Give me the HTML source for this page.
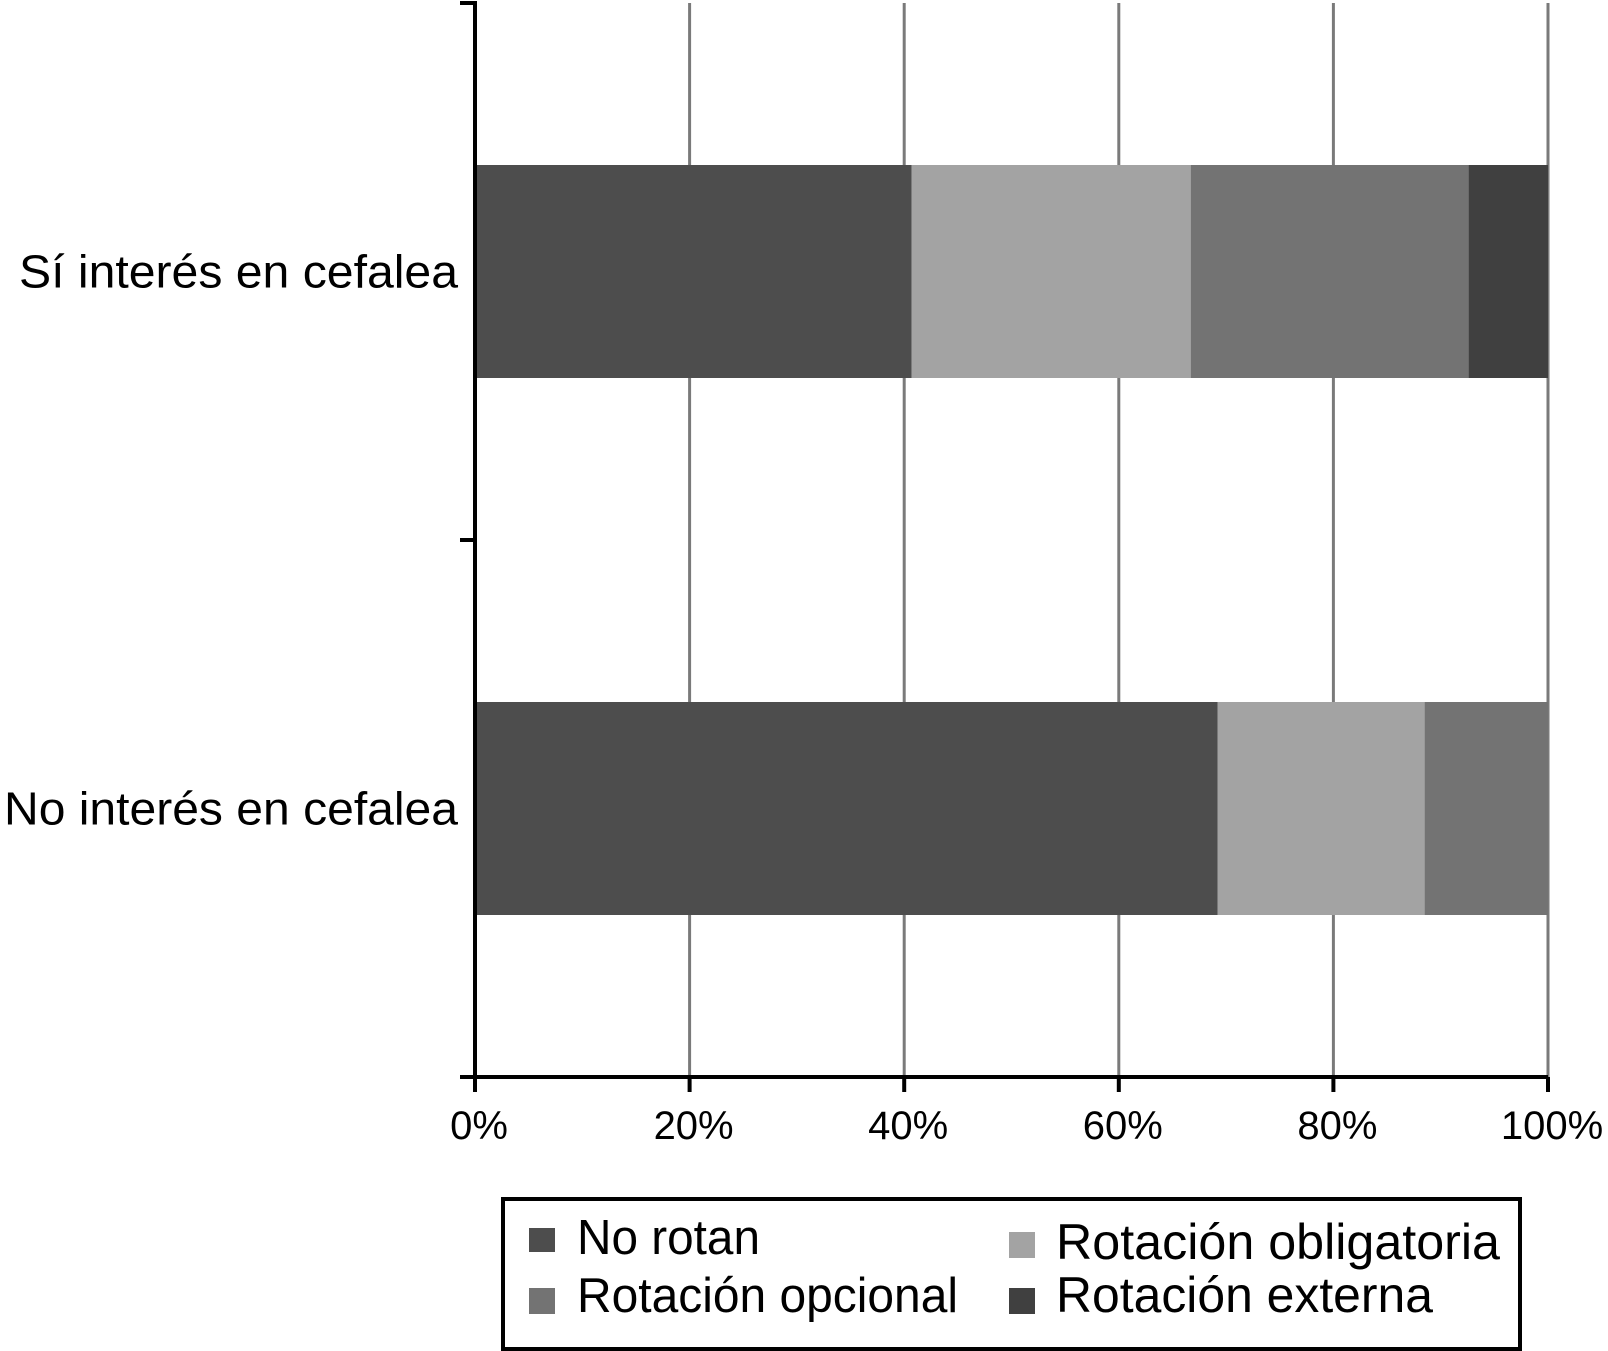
<!DOCTYPE html>
<html><head><meta charset="utf-8"><style>
html,body{margin:0;padding:0;background:#fff;}
svg{display:block;font-family:"Liberation Sans",Arial,sans-serif;}
</style></head><body>
<svg id="chart" width="1608" height="1351" viewBox="0 0 1608 1351">
<g id="grid"></g>
<g id="bars"></g>
<g id="axes"></g>
<g>
<rect x="503" y="1199" width="1017" height="150" fill="#fff" stroke="#000" stroke-width="4"/>
<g><rect x="529" y="1228" width="26" height="24" fill="#4d4d4d"/><text x="577" y="1254" font-size="49" textLength="183" lengthAdjust="spacingAndGlyphs">No rotan</text></g>
<g><rect x="529" y="1288" width="26" height="26" fill="#737373"/><text x="577" y="1312" font-size="49" textLength="381" lengthAdjust="spacingAndGlyphs">Rotación opcional</text></g>
<g><rect x="1009" y="1232" width="26" height="26" fill="#a3a3a3"/><text x="1056" y="1259" font-size="50" textLength="444" lengthAdjust="spacingAndGlyphs">Rotación obligatoria</text></g>
<g><rect x="1009" y="1288" width="26" height="26" fill="#404040"/><text x="1056" y="1312" font-size="50" textLength="377" lengthAdjust="spacingAndGlyphs">Rotación externa</text></g>
</g>
</svg>
<script>
const categories = ["Sí interés en cefalea", "No interés en cefalea"];
const seriesNames = ["No rotan", "Rotación obligatoria", "Rotación opcional", "Rotación externa"];
const noRotan = [40.7, 69.2];
const obligatoria = [26.0, 19.3];
const opcional = [25.9, 11.5];
const externa = [7.4, 0];
const xTicks = [0, 20, 40, 60, 80, 100];
const xTickLabels = ["0%", "20%", "40%", "60%", "80%", "100%"];

const colors = ["#4d4d4d", "#a3a3a3", "#737373", "#404040"];
const X0 = 475, X1 = 1548, Y0 = 3, Y1 = 1077;
const NS = "http://www.w3.org/2000/svg";
const x = v => X0 + (v / 100) * (X1 - X0);
const band = (Y1 - Y0) / categories.length;
const yc = i => Y0 + band * (i + 0.5);
const barH = 213;
function mk(tag, attrs, parent) {
  const e = document.createElementNS(NS, tag);
  for (const k in attrs) e.setAttribute(k, attrs[k]);
  parent.appendChild(e);
  return e;
}
const grid = document.getElementById('grid');
const bars = document.getElementById('bars');
const axes = document.getElementById('axes');
xTicks.forEach((t, i) => {
  if (t > 0) {
    const g = mk('line', {x1: x(t), x2: x(t), y1: Y0, y2: Y1, stroke: '#7a7a7a', 'stroke-width': 3}, grid);
    
    
  }
  const tk = mk('line', {x1: x(t), x2: x(t), y1: Y1, y2: Y1 + 15, stroke: '#000', 'stroke-width': 4}, axes);
  
  
  const lb = mk('text', {x: x(t) + 4, y: 1139, 'font-size': 40, 'text-anchor': 'middle'}, axes);
  lb.textContent = xTickLabels[i];
  
  
});
const series = [noRotan, obligatoria, opcional, externa];
const labelLens = [439, 454];
categories.forEach((c, i) => {
  let acc = 0;
  series.forEach((s, j) => {
    const v = s[i];
    if (v > 0) {
      const r = mk('rect', {x: x(acc), y: yc(i) - barH / 2, width: x(acc + v) - x(acc), height: barH, fill: colors[j]}, bars);
      
      
    }
    acc += v;
  });
  const t = mk('text', {x: 458, y: yc(i) + 16, 'font-size': 46, 'text-anchor': 'end', textLength: labelLens[i], lengthAdjust: 'spacingAndGlyphs'}, axes);
  t.textContent = c;
  
  
});
for (let i = 0; i <= categories.length; i++) {
  const y = Y0 + band * i;
  const tk = mk('line', {x1: 460, x2: 475, y1: y, y2: y, stroke: '#000', 'stroke-width': 4}, axes);
  
  
}
const ya = mk('line', {x1: X0, x2: X0, y1: Y0 - 2, y2: Y1 + 2, stroke: '#000', 'stroke-width': 4}, axes);


const xa = mk('line', {x1: X0, x2: X1, y1: Y1, y2: Y1, stroke: '#000', 'stroke-width': 4}, axes);


</script>
</body></html>
